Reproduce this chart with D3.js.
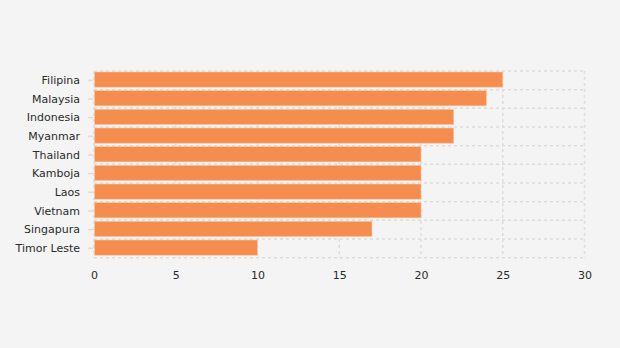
<!DOCTYPE html>
<html><head><meta charset="utf-8">
<script src="https://cdn.jsdelivr.net/npm/d3@7"></script>
<style>
html,body{margin:0;padding:0;background:#f4f4f4;}
svg{display:block;}
text{font-family:"DejaVu Sans",Verdana,sans-serif;font-size:11px;fill:#2a2a2a;}
</style></head><body>
<script>
const categories = ["Filipina","Malaysia","Indonesia","Myanmar","Thailand","Kamboja","Laos","Vietnam","Singapura","Timor Leste"];
const values = [25,24,22,22,20,20,20,20,17,10];
const xTicks = [0,5,10,15,20,25,30];

const W=620,H=348;
const m={left:94,right:35,top:71,bottom:90};
const svg=d3.select("body").append("svg").attr("width",W).attr("height",H);
svg.append("rect").attr("width",W).attr("height",H).attr("fill","#f4f4f4");

const x=d3.scaleLinear().domain([0,30]).range([m.left,584.5]);
const y=d3.scaleBand().domain(categories).range([m.top,257.7]).paddingInner(0).paddingOuter(0);

const grid=svg.append("g").attr("stroke","#dcdcdc").attr("stroke-width",1.5).attr("stroke-dasharray","3,3").attr("fill","none");
const bounds=categories.map(c=>y(c)).concat([y.range()[1]]);
grid.selectAll("line.h").data(bounds).join("line")
  .attr("x1",m.left).attr("x2",x(30)).attr("y1",d=>d).attr("y2",d=>d);
grid.selectAll("line.v").data(xTicks).join("line")
  .attr("x1",d=>x(d)).attr("x2",d=>x(d)).attr("y1",m.top).attr("y2",y.range()[1]);

svg.append("g").selectAll("rect").data(categories).join("rect")
  .attr("x",x(0)+0.5)
  .attr("y",d=>y(d)+1)
  .attr("width",(d,i)=>x(values[i])-x(0)-0.5)
  .attr("height",y.bandwidth()-3.5)
  .attr("fill","#f58d4f")
  .attr("stroke","#fbc4a2").attr("stroke-width",0.6);

const yAxis=svg.append("g").attr("transform",`translate(${m.left},0)`)
  .call(d3.axisLeft(y).tickSize(6).tickPadding(8));
yAxis.select(".domain").remove();
yAxis.selectAll(".tick line").attr("stroke","#dcdcdc").attr("stroke-width",1.5).attr("x1",-1);
yAxis.selectAll("text").attr("fill","#2a2a2a").style("font-size","11px");

const xAxis=svg.append("g").attr("transform",`translate(0,${y.range()[1]})`)
  .call(d3.axisBottom(x).tickValues(xTicks).tickSize(0).tickPadding(14));
xAxis.select(".domain").remove();
xAxis.selectAll("text").attr("fill","#2a2a2a").style("font-size","11px");
</script>
</body></html>
